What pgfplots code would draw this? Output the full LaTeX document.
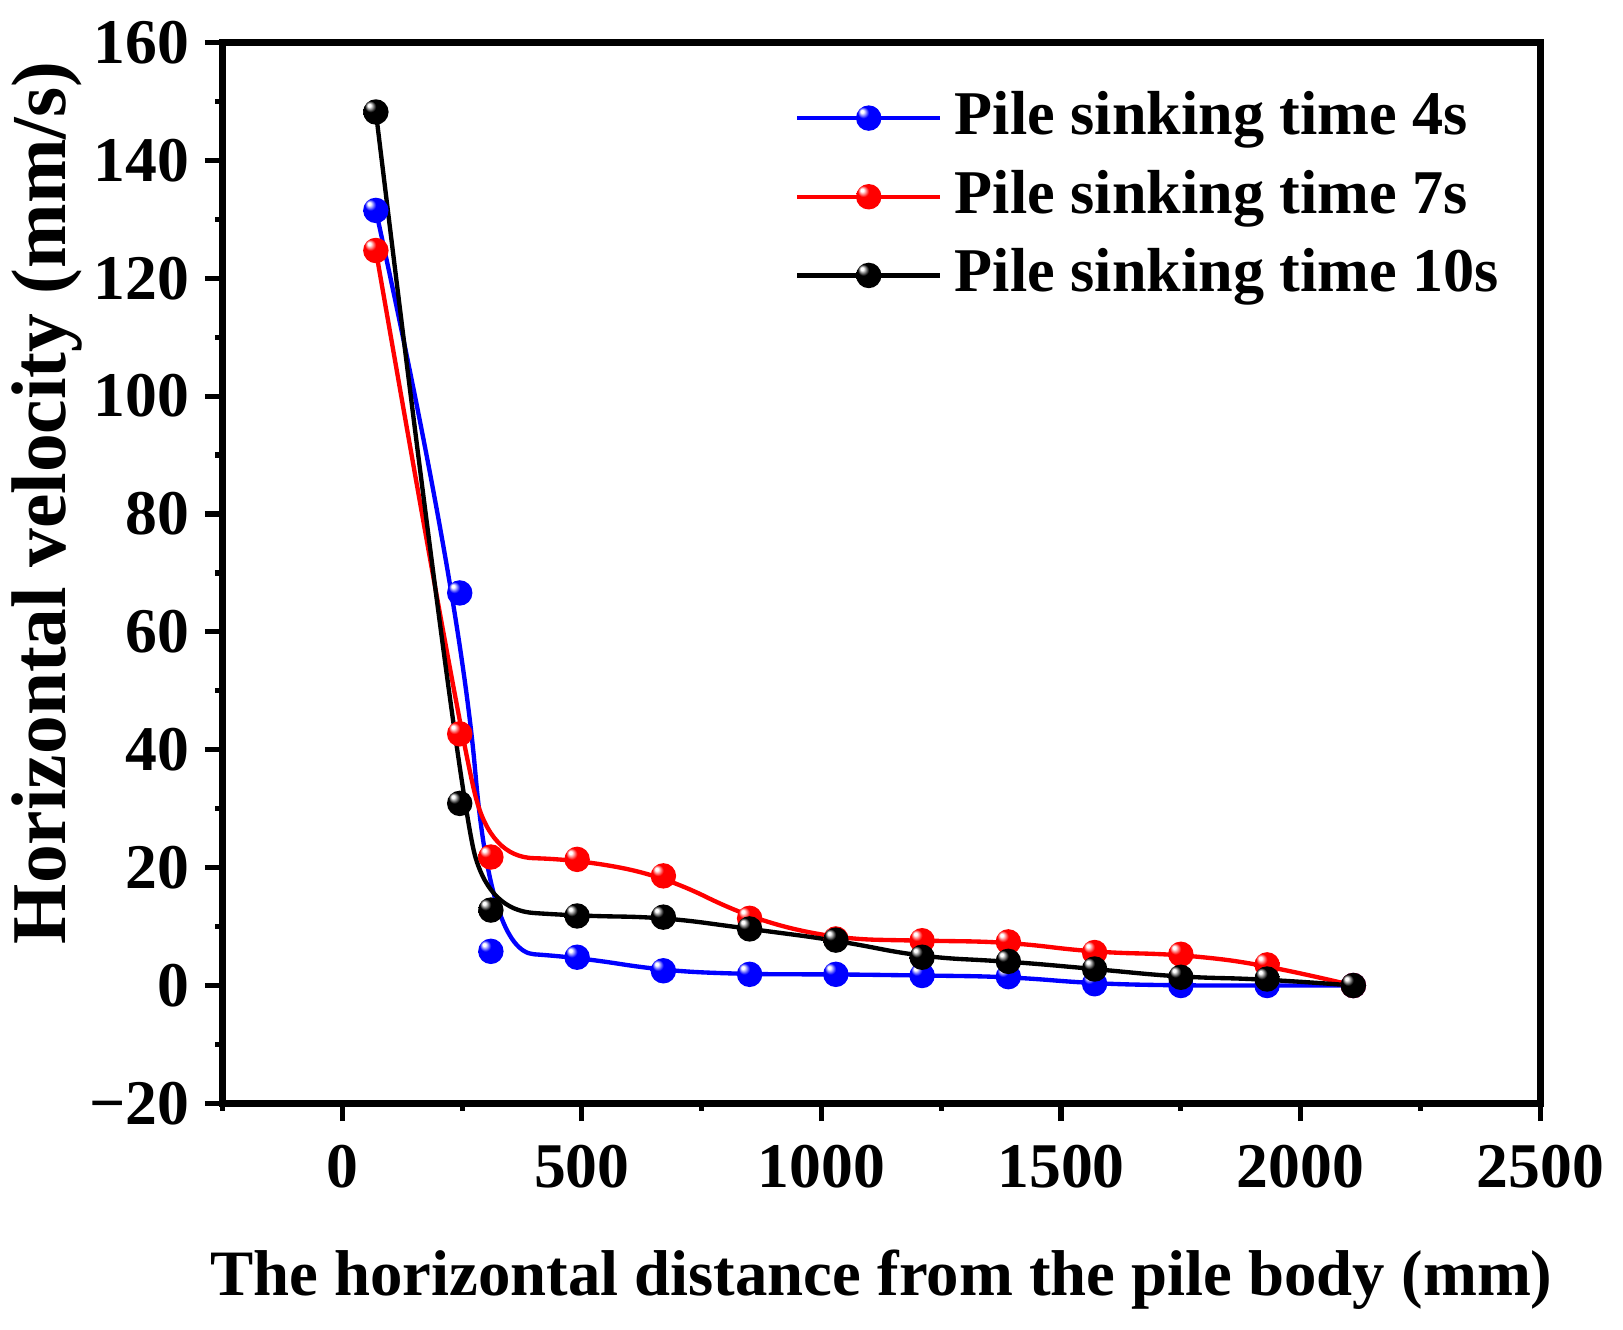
\documentclass[border=0pt]{standalone}
\usepackage{fontspec}
\setmainfont{Liberation Serif}
\usepackage{pgfplots}
\pgfplotsset{compat=1.18}

% clamped quadratic B-spline plot handler (like Origin's B-spline line)
\makeatletter
\def\pgfplothandlerqbspline{%
  \def\pgf@plotstreamstart{%
    \global\let\pgf@plotstreampoint\qbs@pointfirst
    \global\let\pgf@plotstreamspecial\pgfutil@gobble
    \global\let\pgf@plotstreamend\qbs@end
    \gdef\qbs@state{0}%
  }%
}
\def\qbs@pointfirst#1{%
  \pgf@process{#1}%
  \pgf@plot@first@action{\pgfqpoint{\pgf@x}{\pgf@y}}%
  \gdef\qbs@state{1}%
  \global\let\pgf@plotstreampoint\qbs@pointsecond
}
\def\qbs@pointsecond#1{%
  \pgf@process{#1}%
  \xdef\qbs@ax{\the\pgf@x}\xdef\qbs@ay{\the\pgf@y}%
  \gdef\qbs@state{2}%
  \global\let\pgf@plotstreampoint\qbs@pointthird
}
\def\qbs@pointthird#1{%
  \pgf@process{#1}%
  \xdef\qbs@bx{\the\pgf@x}\xdef\qbs@by{\the\pgf@y}%
  \gdef\qbs@state{3}%
  \global\let\pgf@plotstreampoint\qbs@pointrest
}
\def\qbs@pointrest#1{%
  \pgf@process{#1}%
  \xdef\qbs@qx{\the\pgf@x}\xdef\qbs@qy{\the\pgf@y}%
  \pgfpathquadraticcurveto{\pgfqpoint{\qbs@ax}{\qbs@ay}}%
    {\pgfpointlineattime{0.5}{\pgfqpoint{\qbs@ax}{\qbs@ay}}{\pgfqpoint{\qbs@bx}{\qbs@by}}}%
  \global\let\qbs@ax\qbs@bx \global\let\qbs@ay\qbs@by
  \global\let\qbs@bx\qbs@qx \global\let\qbs@by\qbs@qy
}
\def\qbs@end{%
  \ifnum\qbs@state=3
    \pgfpathquadraticcurveto{\pgfqpoint{\qbs@ax}{\qbs@ay}}{\pgfqpoint{\qbs@bx}{\qbs@by}}%
  \else\ifnum\qbs@state=2
    \pgfpathlineto{\pgfqpoint{\qbs@ax}{\qbs@ay}}%
  \fi\fi
}
\tikzset{bspline/.code={\let\tikz@plot@handler=\pgfplothandlerqbspline}}
\makeatother

\newcommand\declareball[2]{%
 \pgfdeclareradialshading{shade#1}{\pgfpoint{-14bp}{14bp}}{color(0bp)=(white); color(3bp)=(white); color(11bp)=(#2); color(50bp)=(#2)}%
 \pgfdeclareplotmark{ball#1}{\pgfpathcircle{\pgfpointorigin}{\pgfplotmarksize}\pgfshadepath{shade#1}{0}\pgfusepath{}}}
\declareball{blue}{blue}
\declareball{red}{red}
\declareball{black}{black}

\pgfplotstableread{
x     b      r      k
70    131.5  124.7  148.2
245   66.6   42.7   30.9
310   5.8    21.8   12.8
490   4.8    21.4   11.8
670   2.5    18.6   11.6
850   1.9    11.4   9.6
1030  1.9    7.9    7.7
1210  1.7    7.6    4.8
1390  1.5    7.4    4.1
1570  0.3    5.6    2.8
1750  0      5.3    1.4
1930  0      3.5    1.1
2110  0      0      0
}\datatable

\begin{document}
\begin{tikzpicture}
\path[use as bounding box] (-21.5mm,-21.8mm) rectangle (135.3mm,106.6mm);
\begin{axis}[
 at={(0,0)}, anchor=south west,
 scale only axis, width=127.3mm, height=102.5mm,
 xmin=-250, xmax=2500, ymin=-20, ymax=160,
 line width=0.65mm,
 tick align=outside, tick pos=left,
 xtick={0,500,1000,1500,2000,2500},
 xticklabels={0,500,1000,1500,2000,2500},
 minor xtick={-250,250,750,1250,1750,2250},
 ytick={-20,0,20,40,60,80,100,120,140,160},
 yticklabels={−20,0,20,40,60,80,100,120,140,160},
 minor ytick={-10,10,30,50,70,90,110,130,150},
 major tick length=1.7mm, minor tick length=0.7mm,
 every tick/.style={black, line width=0.5mm},
 /pgf/number format/assume math mode=true,
 ticklabel style={font=\bfseries\fontsize{17.5}{20}\selectfont},
 xticklabel style={yshift=-0.8mm},
 xlabel={The horizontal distance from the pile body (mm)},
 ylabel={Horizontal velocity (mm/s)},
 x label style={at={(axis description cs:0.5,-0.166)}, anchor=center, font=\bfseries\fontsize{17.8}{20}\selectfont},
 y label style={at={(axis description cs:-0.1335,0.566)}, anchor=center, font=\bfseries\fontsize{21.3}{23}\selectfont},
 legend style={at={(axis description cs:0.432,0.966)}, anchor=north west, draw=none, fill=none, inner sep=0pt,
   font=\bfseries\fontsize{17.1}{19}\selectfont, row sep=0.6mm,
   nodes={inner sep=0.7mm, text height=4.4mm, text depth=1.2mm},
   /tikz/every odd column/.append style={column sep=0.5mm}},
 legend cell align=left,
 legend image code/.code={\draw[mark repeat=2,mark phase=2] plot coordinates {(0mm,0mm) (6.9mm,0mm) (13.8mm,0mm)};},
]
\addplot[blue, line width=0.42mm, bspline, mark=ballblue, mark size=3.5pt] table[x=x,y=b]{\datatable};
\addlegendentry{Pile sinking time 4s}
\addplot[red, line width=0.42mm, bspline, mark=ballred, mark size=3.5pt] table[x=x,y=r]{\datatable};
\addlegendentry{Pile sinking time 7s}
\addplot[black, line width=0.42mm, bspline, mark=ballblack, mark size=3.5pt] table[x=x,y=k]{\datatable};
\addlegendentry{Pile sinking time 10s}
\end{axis}
\end{tikzpicture}
\end{document}
